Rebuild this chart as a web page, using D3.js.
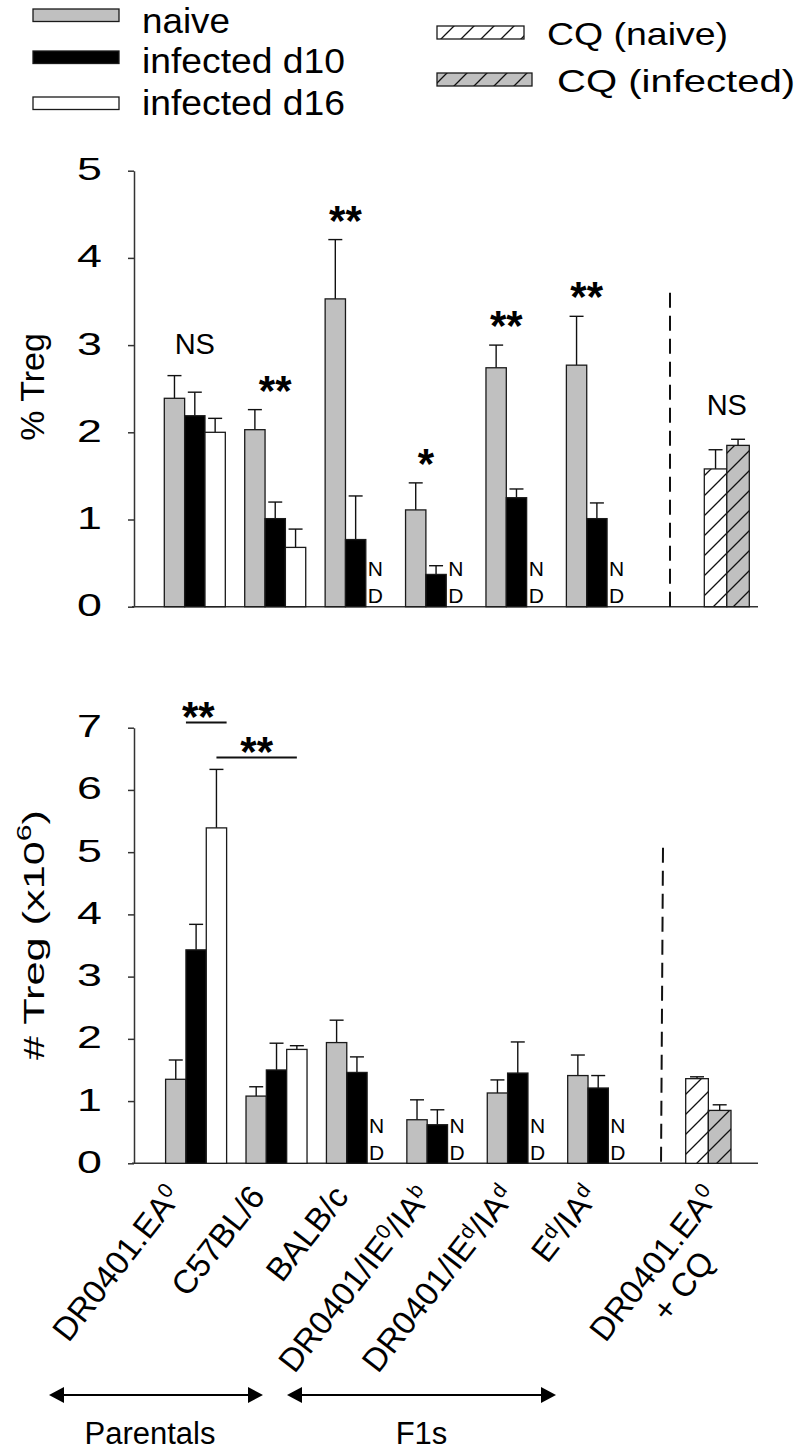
<!DOCTYPE html>
<html><head><meta charset="utf-8">
<script src="https://cdn.jsdelivr.net/npm/d3@7"></script>
<style>
body{margin:0;background:#fff}
svg{display:block}
text{font-family:"Liberation Sans",Arial,Helvetica,sans-serif;fill:#000}
</style>
</head><body>
<svg id="c" width="800" height="1452"></svg>
<script>
// ---------------- DATA ----------------
const groups = ["DR0401.EA^0", "C57BL/6", "BALB/c", "DR0401/IE^0/IA^b", "DR0401/IE^d/IA^d", "E^d/IA^d"];
const cqLabel = ["DR0401.EA^0", "+ CQ"];
const series = ["naive", "infected d10", "infected d16"];
const cqSeries = ["CQ (naive)", "CQ (infected)"];
const groupSets = ["Parentals", "F1s"];

// Panel A: % Treg
const pctNaive    = [2.39, 2.03, 3.53, 1.11, 2.74, 2.77];
const pctNaiveErr = [0.26, 0.23, 0.68, 0.31, 0.26, 0.56];
const pctD10      = [2.19, 1.01, 0.77, 0.37, 1.25, 1.01];
const pctD10Err   = [0.27, 0.19, 0.50, 0.10, 0.10, 0.18];
const pctD16      = [2.00, 0.68, null, null, null, null];
const pctD16Err   = [0.16, 0.21, null, null, null, null];
const pctCQ       = [1.58, 1.85];
const pctCQErr    = [0.22, 0.07];
const pctSig      = ["NS", "**", "**", "*", "**", "**"];
const pctCQSig    = "NS";
const pctTicks    = [0, 1, 2, 3, 4, 5];

// Panel B: # Treg (x10^6)
const numNaive    = [1.35, 1.08, 1.94, 0.70, 1.13, 1.41];
const numNaiveErr = [0.31, 0.15, 0.36, 0.32, 0.21, 0.33];
const numD10      = [3.43, 1.50, 1.46, 0.62, 1.45, 1.21];
const numD10Err   = [0.41, 0.43, 0.25, 0.24, 0.50, 0.20];
const numD16      = [5.39, 1.83, null, null, null, null];
const numD16Err   = [0.94, 0.06, null, null, null, null];
const numCQ       = [1.36, 0.85];
const numCQErr    = [0.03, 0.09];
const numTicks    = [0, 1, 2, 3, 4, 5, 6, 7];
// significance brackets: [group index, series index] -> [group index, series index]
const numBrackets = [
  {from: [0, 1], to: [0, 2], label: "**", mode: "edges"},
  {from: [0, 2], to: [1, 2], label: "**", mode: "centers"}
];

// ---------------- STYLE / LAYOUT ----------------
const FONT = '"Liberation Sans",Arial,Helvetica,sans-serif';
const fills = {"naive": "#c0c0c0", "infected d10": "#000", "infected d16": "#fff",
               "CQ (naive)": "url(#hatchW)", "CQ (infected)": "url(#hatchG)"};
const STROKE = "#1a1a1a";
const AXIS_X = 134;

const svg = d3.select("#c");
const defs = svg.append("defs");
function hatch(id, bg) {
  const p = defs.append("pattern").attr("id", id).attr("patternUnits", "userSpaceOnUse")
    .attr("width", 20).attr("height", 20);
  p.append("rect").attr("width", 20).attr("height", 20).attr("fill", bg);
  p.append("path").attr("d", "M-5,5 L5,-5 M0,20 L20,0 M15,25 L25,15")
    .attr("stroke", "#111").attr("stroke-width", 1.3);
}
hatch("hatchW", "#fff");
hatch("hatchG", "#c0c0c0");

function addRich(sel, str, supSize, supShift) {
  // parse "^x" as superscript x
  const parts = str.split(/(\^.)/).filter(s => s.length);
  let raised = false;
  parts.forEach(p => {
    if (p[0] === "^") {
      sel.append("tspan").attr("font-size", supSize).attr("dy", -supShift).text(p[1]);
      raised = true;
    } else {
      const t = sel.append("tspan").text(p);
      if (raised) { t.attr("dy", supShift); raised = false; }
    }
  });
}

// ---------------- LEGEND ----------------
const legL = svg.append("g");
const legLY = [9, 51, 97];
const legLText = [{y: 33, len: 88}, {y: 73, len: 203}, {y: 115, len: 203}];
series.forEach((s, i) => {
  legL.append("rect").attr("x", 33).attr("y", legLY[i]).attr("width", 86).attr("height", 12.5)
    .attr("fill", fills[s]).attr("stroke", STROKE).attr("stroke-width", 1.3);
  legL.append("text").attr("x", 142).attr("y", legLText[i].y).attr("font-size", 35)
    .attr("textLength", legLText[i].len).attr("lengthAdjust", "spacingAndGlyphs").text(s);
});
const legRY = [26, 73];
const legRText = [{x: 547, y: 45, len: 181}, {x: 557, y: 92, len: 238}];
const legRW = [87, 95];
cqSeries.forEach((s, i) => {
  svg.append("rect").attr("x", 437).attr("y", legRY[i]).attr("width", legRW[i]).attr("height", 13)
    .attr("fill", fills[s]).attr("stroke", STROKE).attr("stroke-width", 1.3);
  svg.append("text").attr("x", legRText[i].x).attr("y", legRText[i].y).attr("font-size", 32)
    .attr("textLength", legRText[i].len).attr("lengthAdjust", "spacingAndGlyphs").text(s);
});

// ---------------- PANELS ----------------
function panel(o) {
  const y = d3.scaleLinear().domain([0, d3.max(o.ticks)]).range([o.yBottom, o.yTop]);
  const x = d3.scaleBand().domain(groups).range(o.xRange).paddingInner(0.2413).paddingOuter(0);
  const xs = d3.scaleBand().domain(series).range([0, x.bandwidth()]);
  const xc = d3.scaleBand().domain(cqSeries).range(o.cqRange);
  const g = svg.append("g");

  // y axis
  const SX = 1.4;
  const ax = g.append("g").attr("transform", `translate(${AXIS_X},0)`)
    .call(d3.axisLeft(y).tickValues(o.ticks).tickFormat(d3.format("d")).tickSize(6).tickPadding(26).tickSizeOuter(0));
  ax.attr("font-size", 32).attr("font-family", FONT);
  ax.select(".domain").attr("stroke", "#333").attr("stroke-width", 1.5);
  ax.selectAll(".tick line").attr("stroke", "#333").attr("stroke-width", 1.5);
  ax.selectAll(".tick text").attr("fill", "#000").attr("x", -32 / SX).attr("dy", "0.28em")
    .attr("transform", `scale(${SX},1)`);

  // baseline
  g.append("line").attr("x1", AXIS_X - 2).attr("x2", 758).attr("y1", y(0)).attr("y2", y(0))
    .attr("stroke", "#333").attr("stroke-width", 1.5);

  // y title
  const yt = g.append("text").attr("transform", `translate(44,${o.titleY}) rotate(-90)`)
    .attr("text-anchor", "middle").attr("font-size", o.titleSize);
  addRich(yt, o.title, o.titleSize * 0.7, o.titleSize * 0.42);
  if (o.titleLen) yt.attr("textLength", o.titleLen).attr("lengthAdjust", "spacingAndGlyphs");

  // bars
  const vals = [o.naive, o.d10, o.d16], errs = [o.naiveErr, o.d10Err, o.d16Err];
  const rows = [];
  groups.forEach((gr, i) => series.forEach((s, j) => {
    if (vals[j][i] != null) rows.push({g: gr, i, s, j, v: vals[j][i], e: errs[j][i],
      x0: x(gr) + xs(s), w: xs.bandwidth()});
  }));
  cqSeries.forEach((s, j) => rows.push({s, v: o.cq[j], e: o.cqErr[j], x0: xc(s), w: xc.bandwidth()}));

  const bg = g.append("g");
  rows.forEach(r => {
    const cx = r.x0 + r.w / 2;
    bg.append("line").attr("x1", cx).attr("x2", cx).attr("y1", y(r.v)).attr("y2", y(r.v + r.e))
      .attr("stroke", "#111").attr("stroke-width", 1.4);
    bg.append("line").attr("x1", cx - 7).attr("x2", cx + 7).attr("y1", y(r.v + r.e)).attr("y2", y(r.v + r.e))
      .attr("stroke", "#111").attr("stroke-width", 1.4);
    bg.append("rect").attr("x", r.x0).attr("y", y(r.v)).attr("width", r.w).attr("height", y(0) - y(r.v))
      .attr("fill", fills[r.s]).attr("stroke", STROKE).attr("stroke-width", 1.3);
  });

  // ND labels
  groups.forEach((gr, i) => {
    if (o.d16[i] == null) {
      const xx = x(gr) + xs(series[1]) + xs.bandwidth() + 2;
      g.append("text").attr("x", xx).attr("y", y(0) - 30.5).attr("font-size", 21).text("N");
      g.append("text").attr("x", xx).attr("y", y(0) - 3.5).attr("font-size", 21).text("D");
    }
  });

  // dashed separator
  g.append("line").attr("x1", o.sepX[0]).attr("x2", o.sepX[1]).attr("y1", y(o.sepTop)).attr("y2", y(0) + 3)
    .attr("stroke", "#111").attr("stroke-width", 2).attr("stroke-dasharray", "15,8");

  return {x, xs, xc, y, g, rows};
}

function sigText(g, cx, inkBottom, label) {
  if (label === "NS") {
    g.append("text").attr("x", cx).attr("y", inkBottom).attr("text-anchor", "middle")
      .attr("font-size", 29).text(label);
  } else {
    g.append("text").attr("x", cx).attr("y", inkBottom + 17).attr("text-anchor", "middle")
      .attr("font-size", 42).attr("font-weight", "bold").text(label);
  }
}

// Panel A
const A = panel({
  ticks: pctTicks, yBottom: 606.7, yTop: 170.7, xRange: [164.3, 627.4], cqRange: [704.3, 749.3],
  naive: pctNaive, naiveErr: pctNaiveErr, d10: pctD10, d10Err: pctD10Err, d16: pctD16, d16Err: pctD16Err,
  cq: pctCQ, cqErr: pctCQErr, title: "% Treg", titleSize: 34, titleY: 387,
  sepX: [670, 670], sepTop: 3.6
});
groups.forEach((gr, i) => {
  const rs = A.rows.filter(r => r.i === i);
  const cx = (d3.min(rs, r => r.x0) + d3.max(rs, r => r.x0 + r.w)) / 2;
  const top = d3.max(rs, r => r.v + r.e);
  sigText(A.g, cx, A.y(top) - 22, pctSig[i]);
});
{
  const rs = A.rows.filter(r => r.i === undefined);
  const cx = (d3.min(rs, r => r.x0) + d3.max(rs, r => r.x0 + r.w)) / 2;
  sigText(A.g, cx, A.y(d3.max(rs, r => r.v + r.e)) - 24, pctCQSig);
}

// Panel B
const B = panel({
  ticks: numTicks, yBottom: 1163.3, yTop: 727.7, xRange: [165.6, 628.7], cqRange: [685.7, 731],
  naive: numNaive, naiveErr: numNaiveErr, d10: numD10, d10Err: numD10Err, d16: numD16, d16Err: numD16Err,
  cq: numCQ, cqErr: numCQErr, title: "# Treg (x10^6)", titleSize: 30, titleY: 935, titleLen: 250,
  sepX: [663, 661], sepTop: 5.07
});
{
  const tipMax = d3.max(B.rows, r => r.v + r.e);
  let ly = B.y(tipMax) - 12;
  const ys = [ly - 35, ly];
  numBrackets.forEach((b, k) => {
    const bx = (gi, si) => B.x(groups[gi]) + B.xs(series[si]);
    let x1, x2;
    if (b.mode === "edges") { x1 = bx(...b.from); x2 = bx(...b.to) + B.xs.bandwidth(); }
    else { x1 = bx(...b.from) + B.xs.bandwidth() / 2; x2 = bx(...b.to) + B.xs.bandwidth() / 2; }
    B.g.append("line").attr("x1", x1).attr("x2", x2).attr("y1", ys[k]).attr("y2", ys[k])
      .attr("stroke", "#111").attr("stroke-width", 2);
    sigText(B.g, (x1 + x2) / 2 - (k === 0 ? 8 : 0), ys[k] - 8, b.label);
  });
}

// ---------------- X LABELS ----------------
const ANG = -52;
const xl = d3.scalePoint().domain(groups).range([183, 600]);
const LY = 1197;
groups.forEach(gr => {
  const t = svg.append("text").attr("transform", `translate(${xl(gr)},${LY}) rotate(${ANG})`)
    .attr("text-anchor", "end").attr("font-size", 33);
  addRich(t, gr, 21, 11);
});
{
  const gq = svg.append("g").attr("transform", `translate(720,${LY}) rotate(${ANG})`);
  const t1 = gq.append("text").attr("text-anchor", "end").attr("font-size", 33);
  addRich(t1, cqLabel[0], 21, 11);
  const L = t1.node().getComputedTextLength();
  gq.append("text").attr("x", -L / 2).attr("y", 37).attr("text-anchor", "middle").attr("font-size", 33).text(cqLabel[1]);
}

// ---------------- GROUP ARROWS ----------------
const arrows = [{x1: 49, x2: 263}, {x1: 287, x2: 556}];
const AY = 1395;
groupSets.forEach((name, i) => {
  const a = arrows[i];
  svg.append("line").attr("x1", a.x1 + 10).attr("x2", a.x2 - 10).attr("y1", AY).attr("y2", AY)
    .attr("stroke", "#000").attr("stroke-width", 2);
  svg.append("path").attr("d", `M${a.x1},${AY} l15,-8 l0,16 Z M${a.x2},${AY} l-15,-8 l0,16 Z`).attr("fill", "#000");
  svg.append("text").attr("x", (a.x1 + a.x2) / 2 + (i === 0 ? -6 : 0)).attr("y", 1444)
    .attr("text-anchor", "middle").attr("font-size", 31).text(name);
});
</script>
</body></html>
